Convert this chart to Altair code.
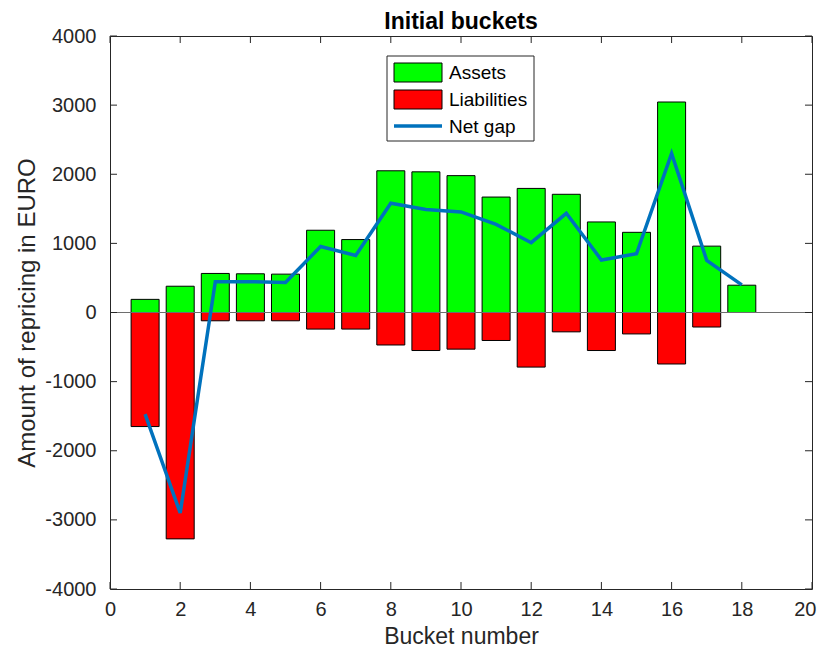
import altair as alt
import pandas as pd

# ---- data ----
buckets = [1, 2, 3, 4, 5, 6, 7, 8, 9, 10, 11, 12, 13, 14, 15, 16, 17, 18]
assets = [190, 380, 565, 560, 555, 1190, 1055, 2050, 2035, 1980, 1670, 1795, 1710, 1310, 1160, 3045, 960, 395]
liabilities = [-1650, -3275, -120, -120, -120, -240, -240, -470, -550, -530, -405, -790, -280, -550, -310, -745, -210, 0]
net_gap = [-1470, -2900, 445, 445, 435, 955, 825, 1580, 1490, 1455, 1275, 1010, 1435, 760, 850, 2300, 755, 400]

x_ticks = [0, 2, 4, 6, 8, 10, 12, 14, 16, 18, 20]
y_ticks = [-4000, -3000, -2000, -1000, 0, 1000, 2000, 3000, 4000]

legend_names = ["Assets", "Liabilities", "Net gap"]

W, H = 702, 553
AX = "#262626"
FONT = "Liberation Sans"

df = pd.DataFrame({"bucket": buckets, "assets": assets,
                   "liabilities": liabilities, "net": net_gap})
xt = pd.DataFrame({"v": x_ticks})
yt = pd.DataFrame({"v": y_ticks})
one = pd.DataFrame({"k": [0]})

xs = alt.Scale(domain=[0, 20], nice=False, zero=False, padding=0)
ys = alt.Scale(domain=[-4000, 4000], nice=False, padding=0)

xaxis = alt.Axis(values=x_ticks, ticks=False, domain=False, grid=False,
                 labelExpr="datum.value + ''", labelFlush=False,
                 labelAlign={"condition": {"test": "datum.value == 20", "value": "right"}, "value": "center"},
                 labelOffset={"condition": {"test": "datum.value == 20", "value": 4}, "value": 0},
                 labelPadding=10, labelFontSize=20, labelColor=AX, labelFont=FONT,
                 title="Bucket number", titleFontSize=23, titleFont=FONT,
                 titleFontWeight="normal", titleColor=AX, titlePadding=6)
yaxis = alt.Axis(values=y_ticks, ticks=False, domain=False, grid=False,
                 labelExpr="datum.value + ''",
                 labelPadding=14, labelFontSize=20, labelColor=AX, labelFont=FONT,
                 title="Amount of repricing in EURO", titleFontSize=24, titleFont=FONT,
                 titleFontWeight="normal", titleColor=AX, titlePadding=5)

base = alt.Chart(df)

bars_a = base.mark_bar(size=28, color="#00ff00", stroke="black", strokeWidth=1).encode(
    x=alt.X("bucket:Q", scale=xs, axis=xaxis),
    y=alt.Y("assets:Q", scale=ys, axis=yaxis),
)
bars_l = base.mark_bar(size=28, color="#ff0000", stroke="black", strokeWidth=1).encode(
    x=alt.X("bucket:Q", scale=xs),
    y=alt.Y("liabilities:Q", scale=ys),
)
zero_line = alt.Chart(one).mark_rule(color="#6e6e6e", strokeWidth=1).encode(
    y=alt.datum(0, scale=ys), x=alt.value(0), x2=alt.value(W)
)
net_line = base.mark_line(color="#0072bd", strokeWidth=3.5).encode(
    x=alt.X("bucket:Q", scale=xs),
    y=alt.Y("net:Q", scale=ys),
)

# inward ticks on all four sides
tl = alt.Chart(yt).mark_rule(color=AX).encode(y=alt.Y("v:Q", scale=ys), x=alt.value(0), x2=alt.value(7))
tr = alt.Chart(yt).mark_rule(color=AX).encode(y=alt.Y("v:Q", scale=ys), x=alt.value(W - 7), x2=alt.value(W))
tb = alt.Chart(xt).mark_rule(color=AX).encode(x=alt.X("v:Q", scale=xs), y=alt.value(H - 7), y2=alt.value(H))
tt = alt.Chart(xt).mark_rule(color=AX).encode(x=alt.X("v:Q", scale=xs), y=alt.value(0), y2=alt.value(7))

# legend box
lg_frame = alt.Chart(one).mark_rect(fill="white", stroke=AX, strokeWidth=1).encode(
    x=alt.value(277), x2=alt.value(424), y=alt.value(20), y2=alt.value(105))
lg_a = alt.Chart(one).mark_rect(fill="#00ff00", stroke="black", strokeWidth=1).encode(
    x=alt.value(284), x2=alt.value(332), y=alt.value(27), y2=alt.value(46))
lg_l = alt.Chart(one).mark_rect(fill="#ff0000", stroke="black", strokeWidth=1).encode(
    x=alt.value(284), x2=alt.value(332), y=alt.value(54), y2=alt.value(73))
lg_n = alt.Chart(one).mark_rule(color="#0072bd", strokeWidth=3.5).encode(
    x=alt.value(284), x2=alt.value(332), y=alt.value(90))
lg_texts = []
for name, yy in zip(legend_names, [37, 64, 91]):
    lg_texts.append(alt.Chart(one).mark_text(align="left", baseline="middle", font=FONT,
                                             fontSize=19, color="black").encode(
        x=alt.value(339), y=alt.value(yy), text=alt.value(name)))

chart = alt.layer(bars_a, bars_l, zero_line, net_line, tl, tr, tb, tt,
                  lg_frame, lg_a, lg_l, lg_n, *lg_texts).properties(
    width=W, height=H,
    title=alt.TitleParams("Initial buckets", fontSize=23, font=FONT, fontWeight="bold",
                          color="black", offset=-8, anchor="middle"),
    autosize=alt.AutoSizeParams(type="none"),
    padding={"left": 102, "top": 28, "right": 5, "bottom": 60},
).configure_view(stroke=AX, strokeWidth=1)

chart.save("out.html", embed_options={"renderer": "svg", "actions": False})
